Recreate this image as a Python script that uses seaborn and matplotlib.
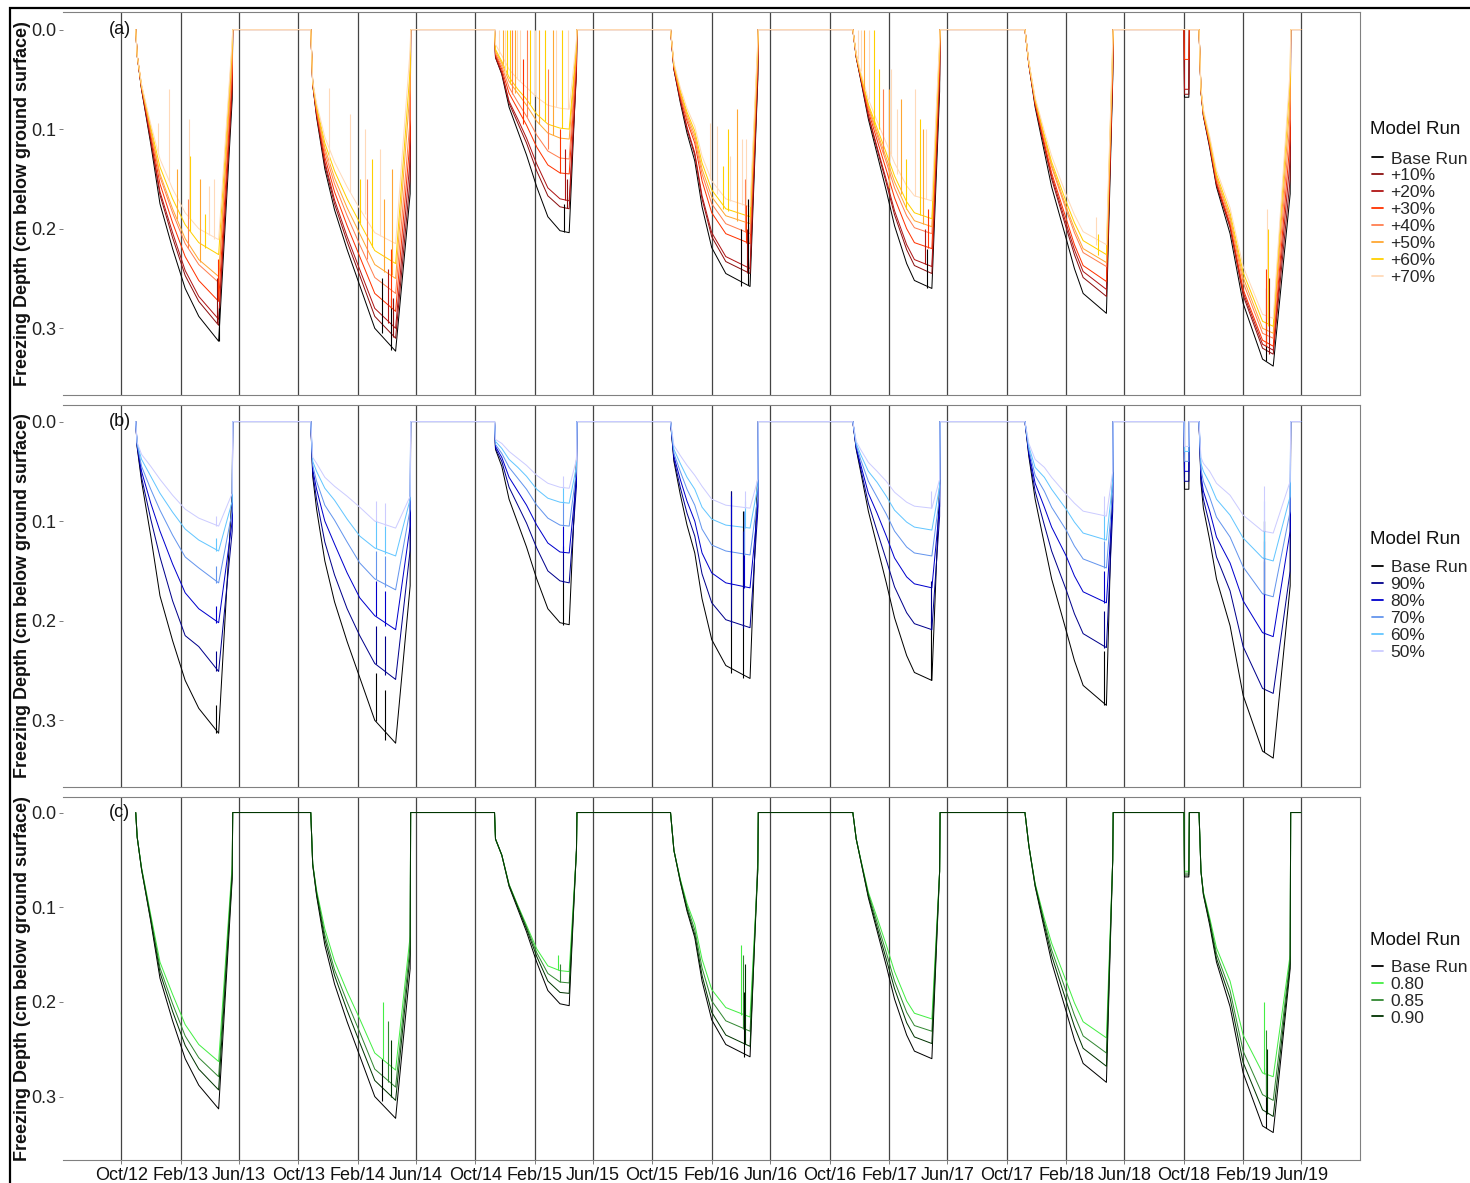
import numpy as np
import pandas as pd
import matplotlib
matplotlib.use("Agg")
import matplotlib.pyplot as plt
import matplotlib.dates as mdates
import matplotlib.transforms as mtransforms
from matplotlib.lines import Line2D
from matplotlib.patches import Rectangle
import seaborn as sns

# ---------------- data (depths in mm below ground surface) ----------------
SEASON_START = ['2012-10-31', '2013-10-27', '2014-11-10', '2015-11-08',
                '2016-11-18', '2017-11-08', '2018-11-02']
SEASON_END = ['2013-05-19', '2014-05-21', '2015-04-29', '2016-05-07',
              '2017-05-17', '2018-05-09', '2019-05-10']
SEASON_NODES = [
    ['2012-11-03', '2012-11-12', '2012-12-01', '2012-12-20', '2013-01-15', '2013-02-10', '2013-03-10', '2013-04-20', '2013-05-18'],
    ['2013-10-31', '2013-11-08', '2013-11-25', '2013-12-15', '2014-01-10', '2014-02-05', '2014-03-08', '2014-04-20', '2014-05-20'],
    ['2014-11-12', '2014-11-25', '2014-12-10', '2014-12-28', '2015-01-15', '2015-02-05', '2015-02-28', '2015-03-25', '2015-04-13', '2015-04-28'],
    ['2015-11-15', '2015-11-28', '2015-12-12', '2015-12-28', '2016-01-12', '2016-02-01', '2016-03-01', '2016-04-20', '2016-05-06'],
    ['2016-11-25', '2016-12-04', '2016-12-20', '2017-01-07', '2017-01-26', '2017-02-12', '2017-03-09', '2017-03-25', '2017-04-30', '2017-05-16'],
    ['2017-11-16', '2017-11-29', '2017-12-18', '2018-01-02', '2018-02-01', '2018-02-18', '2018-03-08', '2018-04-25', '2018-05-08'],
    ['2018-11-06', '2018-11-11', '2018-11-24', '2018-12-08', '2019-01-05', '2019-02-01', '2019-03-13', '2019-04-04', '2019-05-09'],
]
BLIP_DATES = ['2018-10-02', '2018-10-03', '2018-10-12', '2018-10-13']
RECORD_END = '2019-05-31'

BASE_RUN = [
    [26, 60, 115, 175, 220, 260, 288, 313, 70],
    [55, 88, 140, 181, 221, 257, 300, 323, 165],
    [28, 45, 78, 102, 126, 158, 188, 202, 204, 38],
    [40, 73, 104, 132, 178, 219, 245, 258, 50],
    [28, 50, 90, 125, 162, 197, 235, 252, 260, 62],
    [35, 78, 123, 158, 210, 240, 265, 285, 50],
    [62, 87, 119, 158, 205, 275, 331, 338, 165],
]
BASE_BLIP = 68

RUNS_A = {
    '+10%': [[26, 60, 112, 166, 209, 247, 273, 297, 60],
             [55, 86, 136, 175, 213, 247, 288, 310, 150],
             [28, 44, 74, 94, 114, 142, 167, 178, 180, 45],
             [40, 71, 100, 126, 170, 208, 233, 245, 45],
             [28, 49, 87, 120, 154, 186, 221, 237, 245, 50],
             [35, 76, 118, 150, 199, 226, 249, 268, 45],
             [62, 86, 117, 156, 199, 267, 320, 326, 150]],
    '+20%': [[26, 59, 110, 163, 204, 242, 268, 291, 55],
             [55, 85, 133, 171, 208, 241, 280, 300, 130],
             [27, 43, 72, 90, 109, 135, 159, 170, 172, 40],
             [39, 70, 98, 124, 167, 204, 228, 240, 40],
             [27, 48, 86, 118, 151, 182, 216, 231, 238, 45],
             [35, 75, 116, 147, 195, 221, 243, 261, 40],
             [62, 86, 116, 155, 197, 264, 316, 322, 130]],
    '+30%': [[26, 58, 106, 155, 194, 228, 252, 273, 45],
             [54, 83, 128, 163, 197, 228, 265, 283, 110],
             [25, 40, 64, 80, 96, 118, 136, 144, 145, 30],
             [38, 67, 92, 114, 152, 184, 205, 215, 30],
             [27, 47, 82, 111, 141, 169, 200, 214, 220, 35],
             [34, 74, 114, 144, 190, 216, 237, 253, 35],
             [61, 85, 115, 153, 195, 261, 312, 318, 110]],
    '+40%': [[26, 57, 103, 148, 184, 215, 236, 254, 35],
             [54, 81, 123, 155, 187, 216, 249, 265, 90],
             [24, 37, 58, 73, 87, 106, 122, 129, 130, 25],
             [37, 65, 89, 110, 145, 175, 195, 205, 25],
             [26, 46, 79, 106, 133, 159, 187, 199, 205, 25],
             [34, 72, 110, 138, 181, 204, 224, 238, 25],
             [61, 84, 113, 150, 191, 254, 305, 310, 90]],
    '+50%': [[26, 57, 101, 145, 180, 210, 231, 248, 25],
             [53, 79, 119, 149, 179, 205, 236, 250, 60],
             [22, 34, 52, 64, 76, 92, 104, 109, 110, 20],
             [36, 63, 86, 106, 140, 168, 187, 195, 20],
             [26, 45, 77, 103, 129, 153, 180, 192, 198, 20],
             [33, 71, 108, 136, 178, 200, 220, 234, 20],
             [60, 83, 112, 148, 188, 249, 300, 305, 70]],
    '+60%': [[26, 56, 98, 138, 170, 196, 214, 226, 15],
             [53, 77, 114, 142, 170, 194, 222, 235, 40],
             [20, 32, 48, 60, 70, 85, 95, 99, 100, 15],
             [35, 61, 83, 102, 134, 161, 180, 188, 15],
             [25, 44, 75, 99, 124, 147, 173, 184, 190, 15],
             [33, 70, 106, 133, 173, 194, 212, 226, 15],
             [60, 82, 110, 145, 184, 244, 293, 298, 50]],
    '+70%': [[26, 55, 95, 130, 160, 184, 200, 211, 10],
             [52, 74, 108, 133, 158, 180, 204, 215, 20],
             [15, 26, 40, 50, 58, 68, 76, 79, 80, 10],
             [33, 58, 79, 97, 127, 152, 170, 178, 10],
             [24, 42, 70, 92, 114, 134, 157, 167, 172, 10],
             [32, 68, 102, 127, 166, 186, 203, 216, 10],
             [58, 80, 107, 141, 179, 238, 286, 290, 40]],
}
BLIP_A = {'+10%': 65, '+20%': 60, '+30%': 30, '+40%': 0, '+50%': 0, '+60%': 0, '+70%': 0}

RUNS_B = {
    '90%': [[25, 56, 98, 136, 180, 215, 226, 251, 110],
            [52, 78, 121, 154, 188, 215, 243, 259, 129],
            [27, 40, 66, 84, 102, 127, 150, 160, 162, 65],
            [38, 66, 92, 115, 153, 182, 199, 207, 90],
            [27, 47, 82, 110, 139, 166, 192, 203, 209, 95],
            [33, 70, 104, 130, 169, 193, 213, 227, 90],
            [58, 78, 104, 136, 170, 226, 268, 273, 150]],
    '80%': [[24, 50, 82, 110, 143, 172, 188, 202, 100],
            [48, 68, 100, 123, 152, 177, 195, 209, 105],
            [25, 36, 56, 70, 84, 104, 122, 131, 132, 58],
            [35, 58, 80, 100, 132, 152, 162, 167, 85],
            [26, 43, 72, 92, 115, 137, 156, 163, 167, 85],
            [31, 62, 86, 106, 135, 155, 171, 182, 80],
            [54, 70, 90, 116, 142, 180, 212, 216, 110]],
    '70%': [[23, 45, 68, 89, 114, 136, 147, 162, 90],
            [44, 60, 84, 99, 121, 142, 158, 169, 88],
            [23, 32, 46, 57, 68, 84, 97, 104, 105, 50],
            [32, 50, 68, 84, 108, 124, 130, 134, 75],
            [24, 38, 60, 76, 93, 110, 126, 132, 135, 75],
            [28, 54, 70, 86, 109, 125, 138, 147, 70],
            [48, 60, 76, 96, 116, 146, 173, 176, 90]],
    '60%': [[22, 38, 55, 72, 91, 108, 119, 130, 80],
            [40, 50, 67, 79, 98, 115, 127, 135, 78],
            [20, 27, 38, 46, 55, 68, 77, 81, 82, 45],
            [28, 42, 56, 68, 86, 98, 104, 107, 65],
            [22, 33, 50, 61, 75, 89, 101, 106, 109, 65],
            [25, 46, 56, 68, 88, 101, 112, 119, 60],
            [42, 50, 62, 78, 94, 117, 137, 140, 75]],
    '50%': [[21, 33, 45, 58, 74, 88, 97, 105, 72],
            [36, 42, 56, 65, 75, 86, 100, 107, 75],
            [18, 22, 30, 37, 44, 54, 62, 66, 67, 38],
            [24, 34, 44, 54, 65, 78, 84, 87, 58],
            [20, 28, 41, 50, 60, 71, 81, 85, 87, 58],
            [22, 38, 46, 56, 73, 82, 90, 95, 50],
            [36, 42, 50, 62, 74, 94, 110, 112, 60]],
}
BLIP_B = {'90%': 60, '80%': 50, '70%': 40, '60%': 30, '50%': 25}

RUNS_C = {
    '0.80': [[26, 58, 108, 158, 192, 224, 245, 263, 55],
             [54, 82, 123, 157, 189, 218, 254, 272, 130],
             [28, 45, 76, 98, 119, 144, 162, 167, 168, 40],
             [40, 70, 96, 118, 155, 187, 206, 216, 60],
             [28, 49, 84, 111, 140, 168, 199, 212, 218, 62],
             [35, 75, 112, 138, 178, 201, 221, 238, 50],
             [62, 84, 111, 143, 178, 235, 275, 279, 150]],
    '0.85': [[26, 59, 111, 164, 202, 236, 259, 279, 60],
             [54, 84, 129, 166, 200, 232, 271, 290, 140],
             [28, 45, 76, 99, 121, 148, 170, 179, 180, 40],
             [40, 71, 99, 124, 164, 199, 220, 231, 60],
             [28, 49, 86, 116, 148, 178, 211, 225, 231, 62],
             [35, 76, 116, 145, 189, 214, 236, 254, 50],
             [62, 85, 114, 149, 188, 252, 298, 304, 155]],
    '0.90': [[26, 60, 113, 169, 210, 246, 271, 293, 65],
             [55, 86, 134, 172, 209, 243, 283, 304, 150],
             [28, 45, 77, 100, 123, 152, 178, 190, 191, 40],
             [40, 72, 102, 129, 172, 211, 235, 247, 60],
             [28, 50, 88, 121, 155, 186, 222, 237, 244, 62],
             [35, 77, 119, 151, 199, 226, 249, 268, 50],
             [62, 86, 116, 154, 196, 264, 314, 321, 160]],
}
BLIP_C = {'0.80': 62, '0.85': 64, '0.90': 66}

# short thaw / refreeze spikes: (run, date, top depth, bottom depth) in mm
SPIKES_A = [
    ('+70%', '2012-12-16', 94, 125), ('+70%', '2013-01-08', 60, 152), ('+70%', '2013-02-18', 90, 189),
    ('+60%', '2013-02-20', 127, 202), ('+70%', '2013-03-31', 157, 206), ('+50%', '2013-03-13', 150, 233),
    ('+40%', '2013-02-16', 170, 219), ('+60%', '2013-03-23', 185, 219), ('+30%', '2013-04-18', 230, 272),
    ('+10%', '2013-04-16', 250, 295), ('Base Run', '2013-04-20', 280, 313),
    ('+50%', '2013-01-25', 140, 190), ('+70%', '2013-04-10', 150, 210),
    ('+70%', '2013-12-04', 59, 135), ('+70%', '2014-01-16', 85, 163), ('+60%', '2014-03-03', 130, 218),
    ('+70%', '2014-03-19', 120, 207), ('+50%', '2014-04-13', 140, 246), ('+40%', '2014-02-20', 150, 230),
    ('+30%', '2014-04-10', 220, 280), ('+20%', '2014-04-05', 240, 295), ('+10%', '2014-04-15', 270, 309),
    ('Base Run', '2014-03-22', 250, 305), ('Base Run', '2014-04-10', 270, 322),
    ('+70%', '2014-02-15', 100, 185), ('+60%', '2014-02-05', 150, 194), ('+50%', '2014-03-28', 170, 243),
    ('+70%', '2014-11-20', 0, 25), ('+50%', '2014-11-28', 0, 35), ('+60%', '2014-12-06', 0, 45),
    ('+40%', '2014-12-16', 0, 65), ('+70%', '2014-12-26', 0, 50), ('+30%', '2015-01-08', 30, 95),
    ('+60%', '2015-01-22', 0, 75), ('+50%', '2015-02-10', 0, 95), ('+40%', '2015-03-01', 40, 120),
    ('+60%', '2015-03-30', 0, 99), ('+70%', '2015-04-10', 0, 80),
    ('+70%', '2014-12-02', 0, 45), ('+60%', '2014-12-12', 0, 55), ('+50%', '2014-12-22', 0, 64),
    ('+70%', '2015-01-02', 0, 52), ('+40%', '2015-01-16', 0, 88), ('+70%', '2015-02-02', 0, 66),
    ('+60%', '2015-02-22', 0, 92), ('+50%', '2015-03-11', 0, 106), ('+70%', '2015-03-17', 0, 78),
    ('+20%', '2015-04-05', 120, 171), ('+30%', '2015-03-25', 100, 144), ('+10%', '2015-04-08', 150, 179),
    ('Base Run', '2015-04-02', 175, 203),
    ('+70%', '2016-01-29', 94, 150), ('+70%', '2016-02-11', 97, 165), ('+60%', '2016-02-24', 137, 180),
    ('+70%', '2016-03-10', 127, 172), ('+50%', '2016-03-24', 80, 192), ('+70%', '2016-04-03', 110, 176),
    ('+40%', '2016-04-10', 150, 203), ('+30%', '2016-04-12', 170, 214), ('+10%', '2016-04-14', 200, 244),
    ('Base Run', '2016-04-16', 170, 257), ('Base Run', '2016-04-02', 200, 258),
    ('+60%', '2016-03-05', 100, 182), ('+70%', '2016-04-12', 110, 176),
    ('+70%', '2016-11-28', 0, 30), ('+50%', '2016-12-10', 0, 60), ('+70%', '2016-12-22', 0, 70),
    ('+60%', '2017-01-10', 40, 100), ('+40%', '2017-01-20', 60, 125), ('+70%', '2017-02-05', 40, 125),
    ('+50%', '2017-02-25', 70, 165), ('+60%', '2017-04-05', 90, 186), ('+70%', '2017-04-18', 100, 170),
    ('+70%', '2016-12-04', 0, 42), ('+60%', '2016-12-31', 0, 96), ('+50%', '2017-01-31', 60, 159),
    ('+70%', '2017-02-18', 80, 145), ('+60%', '2017-03-07', 130, 180), ('+70%', '2017-03-27', 60, 167),
    ('+50%', '2017-04-11', 100, 195), ('+30%', '2017-04-23', 180, 219), ('+20%', '2017-04-15', 200, 235),
    ('Base Run', '2017-04-20', 220, 260),
    ('+70%', '2018-04-03', 188, 216), ('+60%', '2018-04-08', 205, 226),
    ('+70%', '2019-03-22', 180, 290), ('+60%', '2019-03-24', 200, 298), ('+30%', '2019-03-20', 240, 318),
    ('Base Run', '2019-03-20', 260, 333), ('+10%', '2019-03-26', 250, 326),
]
SPIKES_B = [
    ('Base Run', '2013-04-14', 285, 313), ('90%', '2013-04-14', 230, 251), ('80%', '2013-04-14', 185, 202),
    ('70%', '2013-04-14', 145, 162), ('60%', '2013-04-14', 117, 130), ('50%', '2013-04-14', 95, 105),
    ('Base Run', '2014-03-10', 253, 301), ('Base Run', '2014-03-30', 270, 320),
    ('90%', '2014-03-10', 205, 243), ('90%', '2014-03-30', 215, 255),
    ('80%', '2014-03-10', 160, 195), ('80%', '2014-03-30', 170, 205),
    ('70%', '2014-03-10', 130, 158), ('70%', '2014-03-30', 135, 166),
    ('60%', '2014-03-10', 100, 127), ('60%', '2014-03-30', 105, 133),
    ('50%', '2014-03-10', 80, 100), ('50%', '2014-03-30', 82, 105),
    ('Base Run', '2015-04-01', 160, 204), ('90%', '2015-04-01', 125, 162), ('80%', '2015-04-01', 105, 132),
    ('70%', '2015-04-01', 80, 105), ('60%', '2015-04-01', 65, 82), ('50%', '2015-04-01', 55, 67),
    ('Base Run', '2016-03-12', 70, 253), ('90%', '2016-03-12', 70, 205), ('80%', '2016-03-12', 75, 165),
    ('Base Run', '2016-04-05', 90, 258), ('90%', '2016-04-05', 110, 207), ('80%', '2016-04-08', 100, 167),
    ('70%', '2016-04-08', 90, 134), ('60%', '2016-04-10', 80, 107), ('50%', '2016-04-10', 70, 87),
    ('Base Run', '2017-04-28', 200, 260), ('90%', '2017-04-28', 160, 209), ('50%', '2017-04-28', 70, 87),
    ('Base Run', '2018-04-20', 230, 285), ('90%', '2018-04-20', 190, 227), ('80%', '2018-04-20', 150, 182),
    ('70%', '2018-04-20', 120, 147), ('60%', '2018-04-20', 90, 119), ('50%', '2018-04-20', 75, 95),
    ('Base Run', '2019-03-17', 100, 332), ('90%', '2019-03-17', 140, 268), ('80%', '2019-03-17', 120, 212),
    ('70%', '2019-03-17', 100, 173), ('60%', '2019-03-17', 80, 137), ('50%', '2019-03-17', 65, 110),
]
SPIKES_C = [
    ('0.80', '2014-03-25', 200, 260), ('0.85', '2014-04-05', 220, 285), ('0.90', '2014-04-10', 240, 300),
    ('Base Run', '2014-03-22', 260, 305),
    ('0.80', '2015-03-20', 150, 166), ('0.85', '2015-03-25', 160, 179),
    ('0.80', '2016-04-01', 140, 214), ('0.85', '2016-04-05', 150, 229), ('0.90', '2016-04-10', 160, 245),
    ('Base Run', '2016-04-08', 190, 258),
    ('0.80', '2019-03-15', 200, 276), ('0.85', '2019-03-20', 230, 300), ('0.90', '2019-03-22', 250, 318),
    ('Base Run', '2019-03-20', 270, 333),
]

COLORS_A = {'Base Run': '#000000', '+10%': '#8B1010', '+20%': '#B01515', '+30%': '#FF3300',
            '+40%': '#FF7F50', '+50%': '#FFA733', '+60%': '#FFD000', '+70%': '#FFDAB9'}
COLORS_B = {'Base Run': '#000000', '90%': '#00008B', '80%': '#0000CD', '70%': '#6495ED',
            '60%': '#63C6FF', '50%': '#CCCCFF'}
COLORS_C = {'Base Run': '#000000', '0.80': '#44EE44', '0.85': '#338833', '0.90': '#003300'}


# ---------------- assemble long-form tables ----------------
def series_for(season_vals, blip):
    dates, vals = [], []
    for s in range(7):
        if s == 6:
            dates += BLIP_DATES
            vals += [0, blip, blip, 0]
        dates.append(SEASON_START[s]); vals.append(0)
        dates += SEASON_NODES[s]; vals += list(season_vals[s])
        dates.append(SEASON_END[s]); vals.append(0)
    dates.append(RECORD_END); vals.append(0)
    return pd.to_datetime(dates), np.asarray(vals, dtype=float) / 1000.0


def panel_frame(runs, blips):
    frames = []
    d, v = series_for(BASE_RUN, BASE_BLIP)
    frames.append(pd.DataFrame({'date': d, 'depth': v, 'run': 'Base Run'}))
    for name, vals in runs.items():
        d, v = series_for(vals, blips[name])
        frames.append(pd.DataFrame({'date': d, 'depth': v, 'run': name}))
    return pd.concat(frames, ignore_index=True)


PANELS = [
    ('(a)', panel_frame(RUNS_A, BLIP_A), COLORS_A, SPIKES_A),
    ('(b)', panel_frame(RUNS_B, BLIP_B), COLORS_B, SPIKES_B),
    ('(c)', panel_frame(RUNS_C, BLIP_C), COLORS_C, SPIKES_C),
]

# ---------------- drawing ----------------
sns.set_theme(style='white')
plt.rcParams['font.family'] = ['Liberation Sans', 'DejaVu Sans']

W, H = 1470, 1183
fig = plt.figure(figsize=(W / 100, H / 100), dpi=100)
boxes = [(12, 395), (405, 787), (797, 1160)]
ytops = [-0.0176, -0.0166, -0.0164]
legend_y = [0.462, 0.463, 0.461]
title_y = [0.692, 0.647, 0.606]
x0, x1 = 63, 1360

for i, ((lab, df, pal, spikes), (top, bot)) in enumerate(zip(PANELS, boxes)):
    ax = fig.add_axes([x0 / W, 1 - bot / H, (x1 - x0) / W, (bot - top) / H])
    order = list(pal.keys())
    sns.lineplot(data=df, x='date', y='depth', hue='run', hue_order=order, palette=pal,
                 estimator=None, sort=False, linewidth=0.72, legend=False, ax=ax)
    for run, dt, a, b in spikes:
        ax.vlines(pd.Timestamp(dt), a / 1000.0, b / 1000.0, colors=pal[run],
                  linewidth=0.8, zorder=2 + order.index(run) * 0.01)

    ax.set_xlim(pd.Timestamp('2012-06-03'), pd.Timestamp('2019-09-30'))
    ax.set_ylim(0.367, ytops[i])
    ax.set_yticks([0.0, 0.1, 0.2, 0.3])
    ax.set_yticklabels(['0.0', '0.1', '0.2', '0.3'])
    ax.xaxis.set_major_locator(mdates.MonthLocator(bymonth=[2, 6, 10]))
    ax.xaxis.set_major_formatter(mdates.DateFormatter('%b/%y'))
    ax.grid(axis='x', color='#444444', linewidth=0.9)
    ax.grid(axis='y', visible=False)
    ax.set_axisbelow(True)

    ax.tick_params(axis='y', length=3, width=0.6, color='#666666', pad=1.5,
                   labelsize=13, labelcolor='#222222', left=True)
    ax.tick_params(axis='x', length=3, width=0.6, color='#666666', pad=2,
                   labelsize=13, labelcolor='#111111', bottom=True)
    if i < 2:
        ax.tick_params(axis='x', labelbottom=False, bottom=False)

    ax.spines['left'].set_visible(False)
    for sp in ('top', 'bottom', 'right'):
        ax.spines[sp].set_color('#808080')
        ax.spines[sp].set_linewidth(0.8)

    ax.set_xlabel('')
    ax.set_ylabel('Freezing Depth (cm below ground surface)', fontsize=13,
                  fontweight='bold', color='#111111')
    ax.yaxis.set_label_coords(-0.0245, 0.5)

    trans = mtransforms.blended_transform_factory(ax.transAxes, ax.transData)
    ax.text(0.0355, 0.0, lab, transform=trans, fontsize=13, ha='left', va='center',
            color='#111111')

    ax.text(1.0077, title_y[i], 'Model Run', transform=ax.transAxes, fontsize=13.5,
            ha='left', va='center', color='#111111')
    handles = [Line2D([0], [0], color=pal[r], linewidth=1.3) for r in order]
    ax.legend(handles, order, loc='center left',
              bbox_to_anchor=(1.0095, legend_y[i]), frameon=False, fontsize=12.5,
              handlelength=0.6, handletextpad=0.45, labelspacing=0.1,
              borderaxespad=0, borderpad=0)

fig.add_artist(Rectangle((10 / W, -0.05), 1.2, 1 - 8 / H + 0.05,
                         transform=fig.transFigure, fill=False,
                         edgecolor='black', linewidth=1.6, clip_on=False))

fig.savefig('out.png', dpi=100)
